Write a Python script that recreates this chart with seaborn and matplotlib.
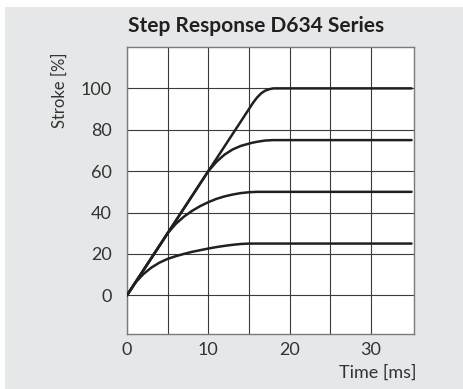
import pandas as pd
import seaborn as sns
import matplotlib.pyplot as plt
from matplotlib.patches import Rectangle

# time axis [ms], shared by all four curves
time_ms = [0, 1, 2, 3, 4, 5, 6, 7, 8, 9, 10, 11, 12, 13, 14, 15,
           15.5, 16, 16.5, 17, 17.5, 18, 19, 20, 35]

stroke_100 = [0, 6, 12, 18, 24, 30, 36, 42, 48, 54, 60, 66, 72, 78, 84, 90,
              93, 95.6, 97.6, 98.9, 99.6, 100, 100, 100, 100]
stroke_75 = [0, 6, 12, 18, 24, 30, 36, 42, 48, 54, 60, 64.5, 68, 70.5, 72.2, 73.3,
             73.8, 74.2, 74.5, 74.8, 74.9, 75, 75, 75, 75]
stroke_50 = [0, 6, 12, 18, 24, 30, 34.5, 38, 40.8, 43.1, 45, 46.6, 47.8, 48.7, 49.4, 49.8,
             49.9, 50, 50, 50, 50, 50, 50, 50, 50]
stroke_25 = [0, 6, 10.2, 13.4, 15.8, 17.6, 18.9, 20, 21, 21.8, 22.6, 23.3, 23.9, 24.4, 24.8, 25,
             25, 25, 25, 25, 25, 25, 25, 25, 25]

series = {"100": stroke_100, "75": stroke_75, "50": stroke_50, "25": stroke_25}

df = pd.concat(
    [pd.DataFrame({"Time": time_ms, "Stroke": vals, "Level": name}) for name, vals in series.items()],
    ignore_index=True,
)

sns.set_style("white")
plt.rcParams["font.family"] = ["Lato", "DejaVu Sans"]

fig = plt.figure(figsize=(4.64, 3.89), dpi=100, facecolor="white")
# grey panel behind everything, leaving a thin white margin top/left
fig.patches.append(Rectangle((5 / 464, 0), 1, 1 - 7 / 389, transform=fig.transFigure,
                             facecolor="#e6e7e8", edgecolor="none", zorder=-10))

ax = fig.add_axes([0.2737, 0.1414, 0.6185, 0.7378])
ax.set_facecolor("white")

sns.lineplot(data=df, x="Time", y="Stroke", hue="Level", palette=["#231f20"] * 4,
             linewidth=1.8, legend=False, ax=ax, zorder=3, sort=False)

ax.set_xlim(0, 35.3)
ax.set_ylim(-18.7, 120)
ax.set_xticks([0, 10, 20, 30])
ax.set_xticks([5, 15, 25], minor=True)
ax.set_yticks([0, 20, 40, 60, 80, 100])
ax.grid(True, which="both", color="#3a3a3a", linewidth=0.8, zorder=1)
ax.tick_params(which="both", length=0, labelsize=13, labelcolor="#333333")
ax.tick_params(axis="y", pad=11)
ax.tick_params(axis="x", pad=6)

for s in ax.spines.values():
    s.set_color("#7a7a7a")
    s.set_linewidth(1.0)

ax.set_xlabel("Time [ms]", fontsize=13, color="#333333")
ax.xaxis.set_label_coords(1.01, -0.105)
ax.xaxis.label.set_ha("right")
ax.set_ylabel("Stroke [%]", fontsize=12, color="#333333")
ax.yaxis.set_label_coords(-0.205, 0.85)

fig.text(0.552, 0.933, "Step Response D634 Series", fontsize=15, fontweight="bold",
         color="#231f20", ha="center", va="center")

fig.savefig("out.png", dpi=100, facecolor=fig.get_facecolor())
